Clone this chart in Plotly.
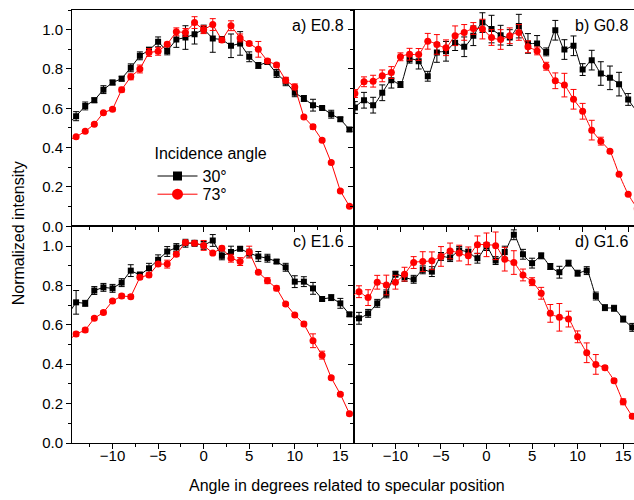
import plotly.graph_objects as go

# ---------------- data ----------------
x_ac = list(range(-15, 17))          # panels a and c
x_b = list(range(-15, 17))           # panel b
x_d = list(range(-15, 17))           # panel d

a_30 = [0.515, 0.560, 0.612, 0.641, 0.695, 0.731, 0.751, 0.806, 0.867, 0.896, 0.938, 0.892, 0.950, 0.960, 0.977, 1.003,
        0.955, 0.950, 0.918, 0.930, 0.862, 0.818, 0.835, 0.777, 0.735, 0.679, 0.650, 0.616, 0.602, 0.570, 0.545, 0.492]
a_30e = [0.02, 0.023, 0.02, 0.012, 0.02, 0.012, 0.012, 0.02, 0.02, 0.015, 0.025, 0.02, 0.04, 0.06, 0.05, 0.02,
         0.07, 0.015, 0.06, 0.06, 0.025, 0.015, 0.01, 0.02, 0.02, 0.02, 0.015, 0.03, 0.006, 0.02, 0.01, 0.01]
a_73 = [0.436, 0.455, 0.483, 0.519, 0.578, 0.595, 0.695, 0.760, 0.800, 0.884, 0.890, 0.926, 0.989, 0.986, 1.036, 1.000,
        1.026, 0.947, 1.020, 0.958, 0.930, 0.900, 0.841, 0.820, 0.743, 0.709, 0.556, 0.506, 0.438, 0.324, 0.180, 0.102]
a_73e = [0.006, 0.006, 0.006, 0.006, 0.006, 0.008, 0.012, 0.015, 0.02, 0.02, 0.02, 0.01, 0.02, 0.02, 0.03, 0.02,
         0.03, 0.01, 0.025, 0.02, 0.01, 0.04, 0.01, 0.01, 0.015, 0.015, 0.008, 0.012, 0.008, 0.006, 0.006, 0.006]

b_30 = [0.604, 0.641, 0.616, 0.679, 0.743, 0.721, 0.850, 0.840, 0.763, 0.884, 0.890, 0.934, 0.913, 0.969, 1.036, 1.003,
        0.972, 0.960, 1.018, 0.930, 0.930, 0.887, 0.997, 0.899, 0.918, 0.797, 0.845, 0.777, 0.755, 0.723, 0.645, 0.580]
b_30e = [0.03, 0.04, 0.04, 0.04, 0.04, 0.015, 0.02, 0.04, 0.025, 0.05, 0.05, 0.04, 0.05, 0.05, 0.05, 0.07,
         0.05, 0.04, 0.06, 0.05, 0.04, 0.02, 0.05, 0.05, 0.05, 0.03, 0.05, 0.06, 0.06, 0.06, 0.03, 0.03]
b_73 = [0.675, 0.735, 0.738, 0.765, 0.782, 0.862, 0.875, 0.874, 0.941, 0.925, 0.908, 0.969, 0.986, 1.006, 1.003, 0.960,
        0.950, 0.969, 0.986, 0.913, 0.892, 0.814, 0.740, 0.718, 0.646, 0.585, 0.489, 0.433, 0.382, 0.265, 0.163, 0.090]
b_73e = [0.02, 0.025, 0.03, 0.03, 0.03, 0.02, 0.03, 0.03, 0.04, 0.05, 0.04, 0.05, 0.04, 0.03, 0.05, 0.04,
         0.05, 0.04, 0.04, 0.03, 0.02, 0.02, 0.04, 0.06, 0.05, 0.04, 0.05, 0.02, 0.008, 0.006, 0.006, 0.006]

c_30 = [0.645, 0.714, 0.709, 0.774, 0.790, 0.785, 0.814, 0.875, 0.853, 0.887, 0.930, 0.972, 0.992, 1.014, 1.014, 1.003,
        1.028, 0.950, 0.969, 0.986, 0.964, 0.947, 0.938, 0.921, 0.892, 0.819, 0.819, 0.785, 0.731, 0.738, 0.709, 0.653]
c_30e = [0.02, 0.06, 0.015, 0.02, 0.02, 0.02, 0.02, 0.03, 0.015, 0.025, 0.025, 0.025, 0.02, 0.02, 0.015, 0.02,
         0.03, 0.02, 0.03, 0.01, 0.02, 0.025, 0.02, 0.01, 0.02, 0.03, 0.025, 0.03, 0.01, 0.015, 0.025, 0.01]
c_73 = [0.514, 0.553, 0.573, 0.633, 0.663, 0.721, 0.746, 0.743, 0.841, 0.853, 0.908, 0.908, 0.958, 1.018, 1.014, 1.003,
        0.964, 0.989, 0.938, 0.921, 0.969, 0.867, 0.824, 0.785, 0.706, 0.650, 0.604, 0.519, 0.446, 0.331, 0.248, 0.149]
c_73e = [0.008, 0.01, 0.01, 0.008, 0.008, 0.008, 0.01, 0.01, 0.01, 0.01, 0.01, 0.02, 0.01, 0.01, 0.01, 0.025,
         0.008, 0.01, 0.02, 0.02, 0.03, 0.008, 0.015, 0.012, 0.008, 0.008, 0.01, 0.035, 0.02, 0.008, 0.008, 0.008]

d_30 = [0.650, 0.633, 0.658, 0.709, 0.757, 0.857, 0.841, 0.831, 0.879, 0.870, 0.947, 0.941, 0.977, 0.969, 0.938, 0.997,
        0.926, 0.969, 1.057, 0.958, 0.913, 0.950, 0.896, 0.867, 0.913, 0.862, 0.875, 0.746, 0.687, 0.684, 0.629, 0.587]
d_30e = [0.02, 0.03, 0.02, 0.02, 0.02, 0.015, 0.02, 0.02, 0.02, 0.025, 0.02, 0.02, 0.02, 0.015, 0.025, 0.02,
         0.02, 0.03, 0.025, 0.025, 0.025, 0.015, 0.015, 0.03, 0.015, 0.015, 0.02, 0.02, 0.015, 0.015, 0.015, 0.02]
d_73 = [0.733, 0.768, 0.738, 0.816, 0.802, 0.816, 0.857, 0.916, 0.921, 0.925, 0.947, 0.975, 0.964, 0.950, 1.006, 1.006,
        1.001, 0.933, 0.916, 0.853, 0.819, 0.760, 0.658, 0.638, 0.629, 0.539, 0.458, 0.399, 0.382, 0.316, 0.209, 0.136]
d_73e = [0.03, 0.03, 0.04, 0.035, 0.05, 0.035, 0.035, 0.03, 0.05, 0.045, 0.05, 0.04, 0.04, 0.045, 0.045, 0.06,
         0.07, 0.06, 0.06, 0.03, 0.02, 0.03, 0.045, 0.07, 0.04, 0.03, 0.05, 0.05, 0.01, 0.01, 0.015, 0.01]

panel_labels = ["a) E0.8", "b) G0.8", "c) E1.6", "d) G1.6"]
series_names = ["30°", "73°"]
legend_title = "Incidence angle"
x_title = "Angle in degrees related to specular position"
y_title = "Normalized intensity"

FONT = "Liberation Sans, Arial, sans-serif"
BLACK = "#000000"
RED = "#ff0000"

fig = go.Figure()

panels = [
    ("x", "y", x_ac, a_30, a_30e, a_73, a_73e, "linear"),
    ("x2", "y2", x_b, b_30, b_30e, b_73, b_73e, "spline"),
    ("x3", "y3", x_ac, c_30, c_30e, c_73, c_73e, "linear"),
    ("x4", "y4", x_d, d_30, d_30e, d_73, d_73e, "spline"),
]

for xa, ya, xs, s30, e30, s73, e73, shape in panels:
    fig.add_trace(go.Scatter(
        x=xs, y=s30, xaxis=xa, yaxis=ya, mode="lines+markers", showlegend=False,
        line=dict(color=BLACK, width=1, shape=shape, smoothing=0.6),
        marker=dict(symbol="square", size=6, color=BLACK),
        error_y=dict(type="data", array=e30, color=BLACK, thickness=1, width=3)))
    fig.add_trace(go.Scatter(
        x=xs, y=s73, xaxis=xa, yaxis=ya, mode="lines+markers", showlegend=False,
        line=dict(color=RED, width=1, shape=shape, smoothing=0.6),
        marker=dict(symbol="circle", size=7, color=RED),
        error_y=dict(type="data", array=e73, color=RED, thickness=1, width=3)))

# legend entries
fig.add_trace(go.Scatter(x=[None], y=[None], mode="lines+markers", name=series_names[0], legend="legend",
                         line=dict(color=BLACK, width=1), marker=dict(symbol="square", size=9, color=BLACK)))
fig.add_trace(go.Scatter(x=[None], y=[None], mode="lines+markers", name=series_names[1], legend="legend2",
                         line=dict(color=RED, width=1), marker=dict(symbol="circle", size=11, color=RED)))

L, R, T, B = 72, 0, 10, 57
W, H = 634, 500
pw = W - L - R
ph = H - T - B
xsplit = (354 - L) / pw
ysplit = (442.7 - 226) / ph

common_x = dict(showline=True, linecolor=BLACK, linewidth=1, mirror=True, ticks="outside", ticklen=5,
                tickwidth=1, tickcolor=BLACK, dtick=5, tick0=0, showgrid=False, zeroline=False,
                tickfont=dict(family=FONT, size=15, color=BLACK),
                minor=dict(ticks="outside", ticklen=3, dtick=2.5, tick0=0, tickcolor=BLACK, showgrid=False))
common_y = dict(showline=True, linecolor=BLACK, linewidth=1, ticks="outside", ticklen=5,
                tickwidth=1, tickcolor=BLACK, dtick=0.2, tick0=0, range=[0, 1.1], showgrid=False,
                zeroline=False, tickformat=".1f", tickfont=dict(family=FONT, size=15, color=BLACK),
                minor=dict(ticks="outside", ticklen=3, dtick=0.1, tick0=0, tickcolor=BLACK, showgrid=False))

rng_ac = [-14.45, 16.5]
rng_b = [-15.1, 15.64]
rng_d = [-14.55, 16.19]

leg_x = (152.5 - L) / pw
fig.update_layout(
    width=W, height=H, margin=dict(l=L, r=R, t=T, b=B),
    paper_bgcolor="white", plot_bgcolor="white",
    font=dict(family=FONT, size=16, color=BLACK),
    xaxis=dict(common_x, domain=[0, xsplit], anchor="y", range=rng_ac, showticklabels=False),
    yaxis=dict(common_y, domain=[ysplit, 1], anchor="x", mirror=True),
    xaxis2=dict(common_x, domain=[xsplit, 1], anchor="y2", range=rng_b, showticklabels=False),
    yaxis2=dict(common_y, domain=[ysplit, 1], anchor="x2", mirror=False, showticklabels=False),
    xaxis3=dict(common_x, domain=[0, xsplit], anchor="y3", range=rng_ac, ticklabelstandoff=-6),
    yaxis3=dict(common_y, domain=[0, ysplit], anchor="x3", mirror=True),
    xaxis4=dict(common_x, domain=[xsplit, 1], anchor="y4", range=rng_d, ticklabelstandoff=-6),
    yaxis4=dict(common_y, domain=[0, ysplit], anchor="x4", mirror=False, showticklabels=False),
    legend=dict(x=leg_x, y=(442.7 - 138) / ph, xanchor="left", yanchor="top",
                bgcolor="rgba(0,0,0,0)", borderwidth=0, itemwidth=40,
                title=dict(text=legend_title, font=dict(family=FONT, size=16)),
                font=dict(family=FONT, size=16)),
    legend2=dict(x=leg_x, y=(442.7 - 177) / ph, xanchor="left", yanchor="top",
                 bgcolor="rgba(0,0,0,0)", borderwidth=0, itemwidth=40,
                 font=dict(family=FONT, size=16)),
    showlegend=True,
)

annos = []
label_pos = [("x domain", "y domain", 0.97, 0.93), ("x2 domain", "y2 domain", 0.985, 0.93),
             ("x3 domain", "y3 domain", 0.97, 0.93), ("x4 domain", "y4 domain", 0.985, 0.93)]
for (xr, yr, px, py), txt in zip(label_pos, panel_labels):
    annos.append(dict(text=txt, xref=xr, yref=yr, x=px, y=py, xanchor="right", yanchor="middle",
                      showarrow=False, font=dict(family=FONT, size=16, color=BLACK)))
annos.append(dict(text=x_title, xref="paper", yref="paper", x=(347 - L) / pw, y=(442.7 - 485) / ph,
                  xanchor="center", yanchor="middle", showarrow=False,
                  font=dict(family=FONT, size=16, color=BLACK)))
annos.append(dict(text=y_title, xref="paper", yref="paper", x=(18 - L) / pw, y=(442.7 - 233) / ph,
                  xanchor="center", yanchor="middle", textangle=-90, showarrow=False,
                  font=dict(family=FONT, size=16, color=BLACK)))
fig.update_layout(annotations=annos)

fig.write_html("out.html")
